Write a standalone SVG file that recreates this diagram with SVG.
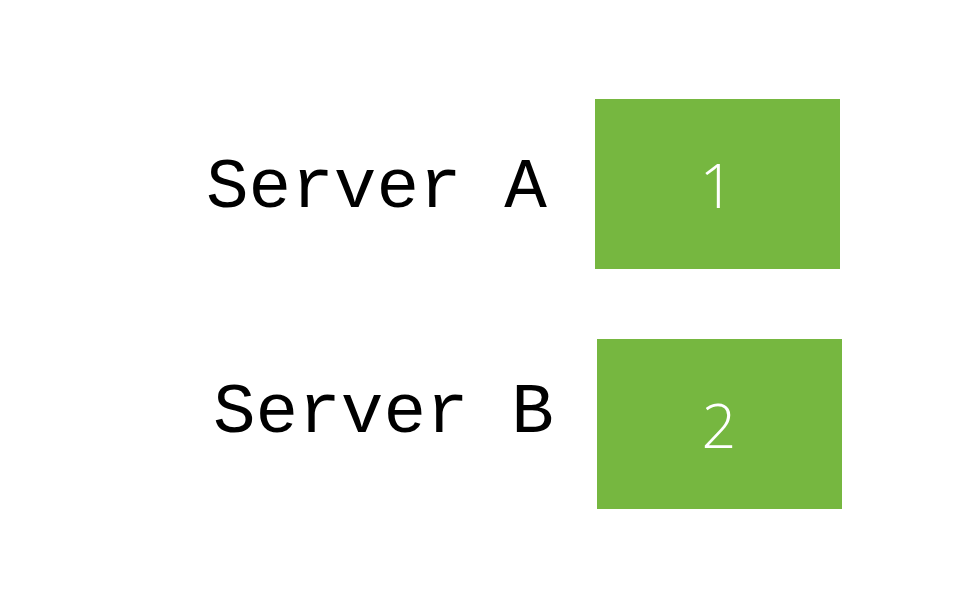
<svg xmlns="http://www.w3.org/2000/svg" width="960" height="591" viewBox="0 0 960 591">
<style>
.lbl{font-family:"Liberation Mono","Courier New",monospace;font-size:71px;fill:#000}
.box{fill:#76B740}
.num{font-family:"Open Sans","Liberation Sans",sans-serif;font-weight:300;font-size:61px;fill:#fff;text-anchor:middle}
</style>
<rect width="960" height="591" fill="#fff"/>
<g id="serverA">
<text class="lbl" x="206" y="207">Server A</text>
<rect class="box" x="595" y="99" width="245" height="170"/>
<text class="num" x="717" y="208">1</text>
</g>
<g id="serverB">
<text class="lbl" x="213" y="432">Server B</text>
<rect class="box" x="597" y="339" width="245" height="170"/>
<text class="num" x="719" y="448">2</text>
</g>
<g id="connectors"/>
</svg>
